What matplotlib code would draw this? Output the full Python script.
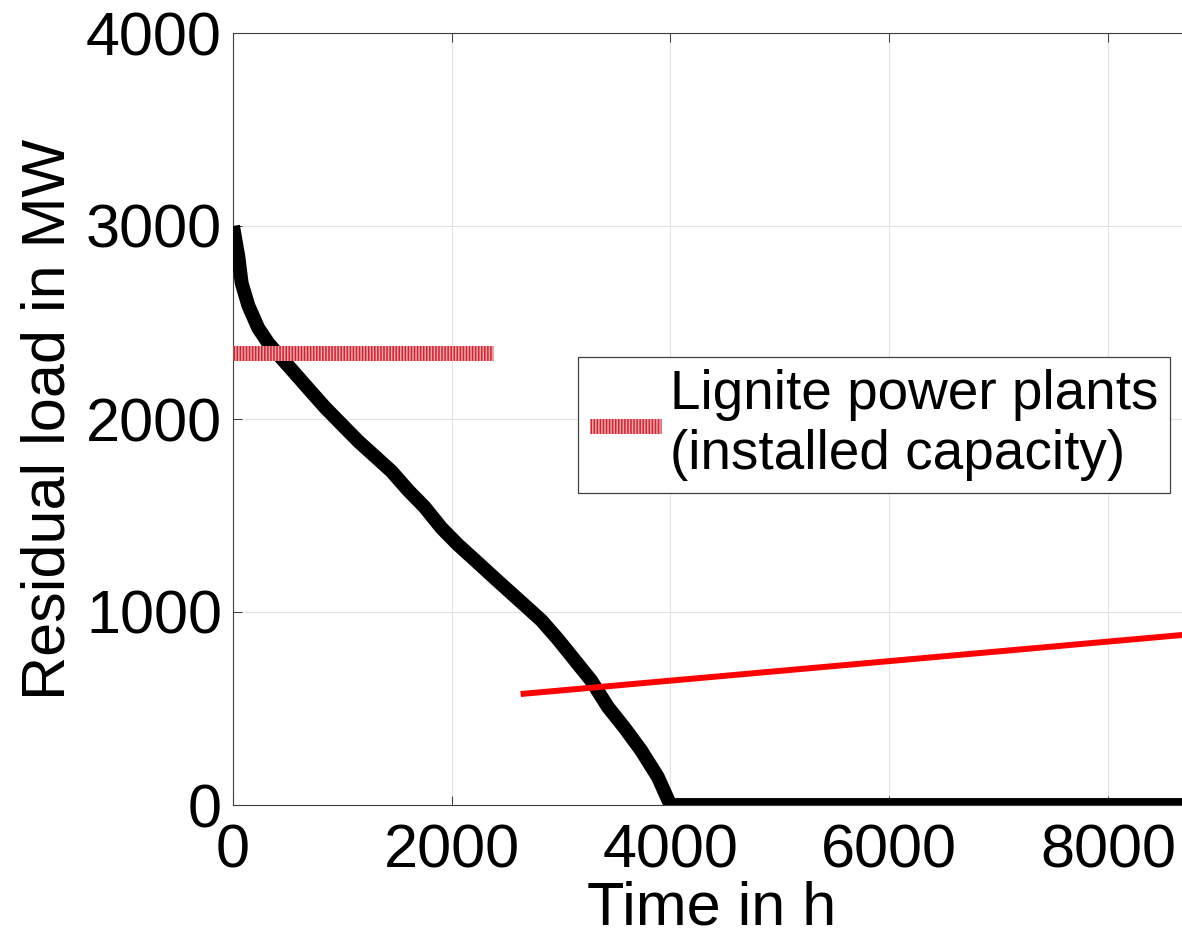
import numpy as np
import matplotlib
matplotlib.use('Agg')
import matplotlib.pyplot as plt

plt.rcParams['font.family'] = ['Liberation Sans', 'DejaVu Sans']
plt.rcParams['lines.scale_dashes'] = False

# residual load duration curve
hours = [0, 49, 79, 140, 231, 323, 429, 536, 688, 840, 992, 1145, 1297, 1449, 1601,
         1753, 1905, 2058, 2210, 2362, 2514, 2667, 2819, 2971, 3123, 3275, 3428,
         3580, 3732, 3884, 4000, 8760]
load = [3000, 2842, 2705, 2588, 2471, 2393, 2324, 2256, 2158, 2061, 1973, 1885, 1807,
        1729, 1631, 1543, 1436, 1348, 1270, 1191, 1113, 1035, 957, 859, 752, 645, 508,
        400, 283, 146, 0, 0]

# lignite installed capacity
cap_x = [0, 2380]
cap_y = [2340, 2340]

# red line
line_x = [2630, 8760]
line_y = [575, 885]

fig = plt.figure(figsize=(11.82, 9.34), dpi=100)
ax = fig.add_axes([233/1182, 129/934, 958/1182, 772/934])

ax.plot(hours, load, color='black', lw=10, solid_capstyle='butt', solid_joinstyle='round', zorder=3)

base, = ax.plot(cap_x, cap_y, color='#efa3a8', lw=10.8, solid_capstyle='butt', zorder=4)
stripes, = ax.plot(cap_x, cap_y, color='#cc2630', lw=10.8, dashes=(1.1, 1.1),
                   dash_capstyle='butt', zorder=4)

ax.plot(line_x, line_y, color='#ff0000', lw=4.3, solid_capstyle='butt', zorder=5)

ax.set_xlim(0, 8760)
ax.set_ylim(0, 4000)
ax.set_xticks([0, 2000, 4000, 6000, 8000])
ax.set_yticks([0, 1000, 2000, 3000, 4000])

ax.grid(True, color='#e2e2e2', lw=0.8)
ax.set_axisbelow(True)
for s in ax.spines.values():
    s.set_color('#404040')
    s.set_linewidth(0.8)

ax.tick_params(direction='in', length=6.5, width=0.75, color='#404040',
               labelsize=44, top=True, right=True)
ax.tick_params(axis='x', pad=13.5)
ax.tick_params(axis='y', pad=8)

ax.set_xlabel('Time in h', fontsize=44, labelpad=0)
ax.set_ylabel('Residual load in MW', fontsize=44, labelpad=6)

leg = ax.legend([(base, stripes)], ['Lignite power plants\n(installed capacity)'],
                loc='upper left', bbox_to_anchor=(578/1182, 1 - 357/934),
                bbox_transform=fig.transFigure, borderaxespad=0, fontsize=39.5,
                handlelength=1.3, handletextpad=0.15, borderpad=0.22,
                fancybox=False, framealpha=1, edgecolor='#404040')
leg.get_frame().set_linewidth(0.9)
leg.get_texts()[0].set_linespacing(1.2)

fig.savefig('out.png', dpi=100)
